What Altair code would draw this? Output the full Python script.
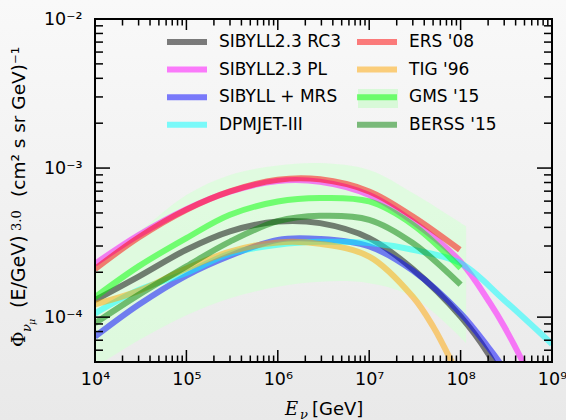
import math
import altair as alt
import pandas as pd

# ---------------- data ----------------
MODELS = ["SIBYLL2.3 RC3", "SIBYLL2.3 PL", "SIBYLL + MRS", "DPMJET-III",
          "ERS '08", "TIG '96", "GMS '15", "BERSS '15"]
COLORS = ["#000000", "#ff00ff", "#0000ff", "#00ffff",
          "#ff0000", "#ffa500", "#00ff00", "#008000"]

RC3_E = [1e4, 3e4, 1e5, 3e5, 1e6, 2.9e6, 1e7, 3e7, 1e8, 2e8, 3e8]
RC3_F = [1.30e-4, 1.87e-4, 2.83e-4, 3.76e-4, 4.38e-4, 4.27e-4, 3.39e-4, 2.10e-4, 1.01e-4, 5.7e-5, 3.6e-5]

PL_E = [1e4, 3e4, 1e5, 3e5, 1e6, 2.9e6, 1e7, 3e7, 1e8, 2.1e8, 3e8, 4.8e8, 6e8]
PL_F = [2.28e-4, 3.55e-4, 5.3e-4, 6.95e-4, 8.2e-4, 8.1e-4, 6.6e-4, 4.38e-4, 2.35e-4, 1.24e-4, 8.65e-5, 5.0e-5, 3.7e-5]

MRS_E = [1e4, 3e4, 1e5, 3e5, 1e6, 2.9e6, 1e7, 3e7, 1e8, 2e8, 2.7e8, 4e8]
MRS_F = [7.4e-5, 1.21e-4, 1.90e-4, 2.58e-4, 3.30e-4, 3.34e-4, 2.98e-4, 2.05e-4, 1.06e-4, 6.3e-5, 4.9e-5, 3.2e-5]

DPM_E = [1e4, 3e4, 1e5, 3e5, 1e6, 2.9e6, 1e7, 3e7, 1e8, 3e8, 1e9]
DPM_F = [1.06e-4, 1.52e-4, 1.98e-4, 2.67e-4, 3.06e-4, 3.20e-4, 3.14e-4, 2.83e-4, 2.30e-4, 1.30e-4, 6.6e-5]

ERS_E = [1e4, 3e4, 1e5, 3e5, 1e6, 2.9e6, 1e7, 3e7, 9.8e7]
ERS_F = [2.10e-4, 3.42e-4, 5.25e-4, 6.97e-4, 8.35e-4, 8.40e-4, 6.97e-4, 4.73e-4, 2.83e-4]

TIG_E = [1e4, 3e4, 1e5, 3e5, 1e6, 2.9e6, 1e7, 3e7, 5e7, 8e7, 1.1e8]
TIG_F = [1.22e-4, 1.50e-4, 2.12e-4, 2.75e-4, 3.17e-4, 3.10e-4, 2.55e-4, 1.37e-4, 8.65e-5, 5.0e-5, 3.3e-5]

GMS_E = [1e4, 3e4, 1e5, 3e5, 1e6, 2.9e6, 1e7, 3e7, 1e8]
GMS_F = [1.36e-4, 2.19e-4, 3.39e-4, 4.86e-4, 5.97e-4, 6.30e-4, 5.97e-4, 4.17e-4, 2.13e-4]

BERSS_E = [1e4, 3e4, 1e5, 3e5, 1e6, 2.9e6, 1e7, 3e7, 1e8]
BERSS_F = [9.1e-5, 1.41e-4, 2.19e-4, 3.21e-4, 4.40e-4, 4.78e-4, 4.50e-4, 3.14e-4, 1.65e-4]

BAND_E = [1e4, 3e4, 1e5, 3e5, 1e6, 2.9e6, 1e7, 3e7, 1.15e8]
BAND_LO = [4.6e-5, 7.0e-5, 1.03e-4, 1.34e-4, 1.60e-4, 1.73e-4, 1.69e-4, 1.37e-4, 6.7e-5]
BAND_HI = [2.4e-4, 3.75e-4, 6.6e-4, 9.0e-4, 1.04e-3, 1.08e-3, 9.7e-4, 6.8e-4, 4.06e-4]

X_TICKS = [1e4, 1e5, 1e6, 1e7, 1e8, 1e9]
X_TICK_LABELS = ["10⁴", "10⁵", "10⁶", "10⁷", "10⁸", "10⁹"]
Y_TICKS = [1e-4, 1e-3, 1e-2]
Y_TICK_LABELS = ["10⁻⁴", "10⁻³", "10⁻²"]

X_MINOR = [k * 10 ** d for d in range(4, 9) for k in range(2, 10)]
Y_MINOR = [k * 10.0 ** d for d in (-5, -4, -3) for k in range(2, 10) if k * 10.0 ** d >= 5e-5]

Y_TITLE_PARTS = ["Φ", "ν", "μ", "(E/GeV)", "3.0", "(cm² s sr GeV)⁻¹"]
X_TITLE_PARTS = ["E", "ν", "[GeV]"]

# ---------------- layout ----------------
W, H = 457, 343
PL_, PT_, PR_, PB_ = 95, 19, 14, 58

series = [(RC3_E, RC3_F), (PL_E, PL_F), (MRS_E, MRS_F), (DPM_E, DPM_F),
          (ERS_E, ERS_F), (TIG_E, TIG_F), (GMS_E, GMS_F), (BERSS_E, BERSS_F)]
rows = []
for name, (es, fs) in zip(MODELS, series):
    for e, f in zip(es, fs):
        rows.append({"model": name, "E": e, "flux": f})
df = pd.DataFrame(rows)
band_df = pd.DataFrame({"E": BAND_E, "lo": BAND_LO, "hi": BAND_HI})


def label_expr(ticks, labels):
    parts = [f"abs(log(datum.value)/LN10-({math.log10(t):.0f}))<0.01 ? '{l}'" for t, l in zip(ticks, labels)]
    return " : ".join(parts) + " : ''"


xscale = alt.Scale(type="log", domain=[1e4, 1e9], nice=False)
yscale = alt.Scale(type="log", domain=[5e-5, 1e-2], nice=False)

XAXIS = alt.Axis(values=X_TICKS, labelExpr=label_expr(X_TICKS, X_TICK_LABELS), title=None,
                 ticks=False, domain=False, grid=False, labelFontSize=17.5, labelPadding=8,
                 labelFont="DejaVu Sans", labelColor="black", labelFlush=False, labelOverlap=False,
                 zindex=2)
YAXIS = alt.Axis(values=Y_TICKS, labelExpr=label_expr(Y_TICKS, Y_TICK_LABELS), title=None,
                 ticks=False, domain=False, grid=False, labelFontSize=17.5, labelPadding=13,
                 labelFont="DejaVu Sans", labelColor="black", labelFlush=False, labelOverlap=False,
                 zindex=2)

bg = alt.Chart(pd.DataFrame({"a": [0]})).mark_rect(
    clip=False,
    color=alt.Gradient(gradient="linear",
                       stops=[alt.GradientStop(color="#f9f9f9", offset=0),
                              alt.GradientStop(color="#e9e9e9", offset=1)],
                       x1=0, x2=0, y1=0, y2=1),
).encode(x=alt.value(-PL_), x2=alt.value(W + PR_), y=alt.value(-PT_), y2=alt.value(H + PB_))

band = alt.Chart(band_df).mark_area(clip=True, color="#d9fdd9", opacity=0.75, interpolate="catmull-rom").encode(
    x=alt.X("E:Q", scale=xscale, axis=XAXIS),
    y=alt.Y("lo:Q", scale=yscale, axis=YAXIS),
    y2="hi:Q",
)

lines = alt.Chart(df).mark_line(strokeWidth=6, opacity=0.5, clip=True, interpolate="catmull-rom").encode(
    x=alt.X("E:Q", scale=xscale, axis=XAXIS),
    y=alt.Y("flux:Q", scale=yscale, axis=YAXIS),
    color=alt.Color("model:N", scale=alt.Scale(domain=MODELS, range=COLORS),
                    legend=alt.Legend(orient="none", legendX=79, legendY=10, columns=2, columnPadding=4,
                                      rowPadding=2.6, symbolType="M-2,0L2,0", symbolSize=400,
                                      symbolStrokeWidth=6, symbolOpacity=0.5, labelFontSize=17,
                                      labelFont="DejaVu Sans", labelColor="black", labelOffset=19,
                                      labelLimit=300, title=None, padding=0)),
)

patch = alt.Chart(pd.DataFrame({"a": [0]})).mark_rect(color="#d8f9d8").encode(
    x=alt.value(263), x2=alt.value(303), y=alt.value(70), y2=alt.value(89))


def xrule(vals, y1, y2):
    return alt.Chart(pd.DataFrame({"E": vals})).mark_rule(color="black", strokeWidth=1.5).encode(
        x=alt.X("E:Q", scale=xscale, axis=XAXIS), y=alt.value(y1), y2=alt.value(y2))


def yrule(vals, x1, x2):
    return alt.Chart(pd.DataFrame({"flux": vals})).mark_rule(color="black", strokeWidth=1.5).encode(
        y=alt.Y("flux:Q", scale=yscale, axis=YAXIS), x=alt.value(x1), x2=alt.value(x2))


ticks = [
    xrule(X_TICKS, H, H - 12), xrule(X_MINOR, H, H - 6.5),
    xrule(X_TICKS, 0, 11), xrule(X_MINOR, 0, 6.5),
    yrule(Y_TICKS, 0, 15), yrule(Y_MINOR, 0, 8),
    yrule(Y_TICKS, W, W - 15), yrule(Y_MINOR, W, W - 8),
]

frame = alt.Chart(pd.DataFrame({"a": [0]})).mark_rect(filled=False, color="black", strokeWidth=2).encode(
    x=alt.value(0), x2=alt.value(W), y=alt.value(0), y2=alt.value(H))


def txt(s, x, y, size, font="DejaVu Sans", angle=0, style="normal"):
    return alt.Chart(pd.DataFrame({"t": [s]})).mark_text(
        align="left", baseline="alphabetic", angle=angle, font=font, fontSize=size,
        fontStyle=style, color="black").encode(text="t:N", x=alt.value(x), y=alt.value(y))


ytitle = [
    txt(Y_TITLE_PARTS[0], 25 - PL_, 347 - PT_, 19, "DejaVu Serif", 270),
    txt(Y_TITLE_PARTS[1], 31 - PL_, 332 - PT_, 13, "DejaVu Serif", 270, "italic"),
    txt(Y_TITLE_PARTS[2], 35 - PL_, 325 - PT_, 9.5, "DejaVu Serif", 270, "italic"),
    txt(Y_TITLE_PARTS[3], 25 - PL_, 308 - PT_, 19, "DejaVu Sans", 270),
    txt(Y_TITLE_PARTS[4], 20.5 - PL_, 231 - PT_, 13, "DejaVu Serif", 270),
    txt(Y_TITLE_PARTS[5], 25 - PL_, 197 - PT_, 18.5, "DejaVu Sans", 270),
]
xtitle = [
    txt(X_TITLE_PARTS[0], 285 - PL_, 415 - PT_, 18, "DejaVu Serif", 0, "italic"),
    txt(X_TITLE_PARTS[1], 300 - PL_, 419 - PT_, 13, "DejaVu Serif", 0, "italic"),
    txt(X_TITLE_PARTS[2], 312 - PL_, 415 - PT_, 18, "DejaVu Sans", 0),
]

chart = alt.layer(bg, band, lines, patch, *ticks, frame, *ytitle, *xtitle).properties(
    width=W, height=H,
    padding={"left": PL_, "top": PT_, "right": PR_, "bottom": PB_},
    autosize=alt.AutoSizeParams(type="none"),
).configure_view(stroke=None).configure(background="#f0f0f0")

chart.save("out.html", embed_options={"renderer": "svg", "actions": False})
